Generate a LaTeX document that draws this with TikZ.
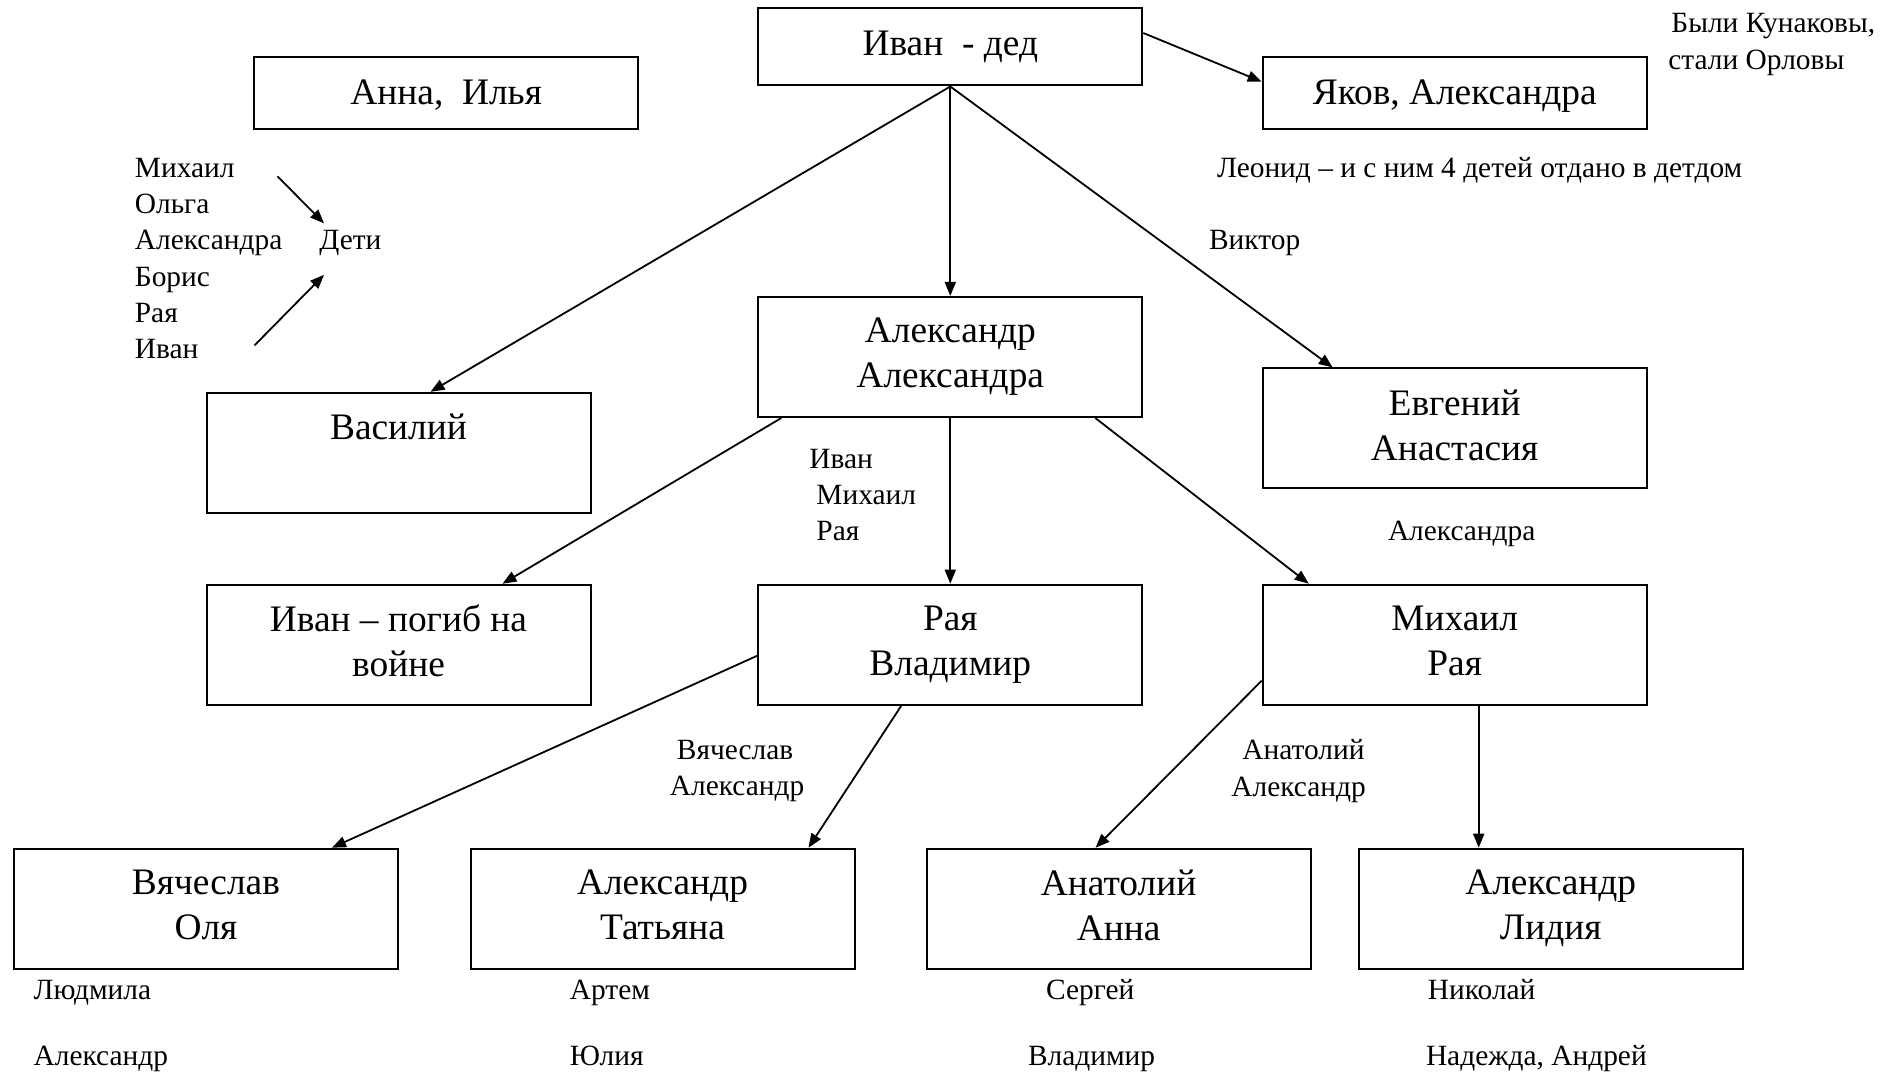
\documentclass[tikz,border=0pt]{standalone}
\usepackage{fontspec}
\setmainfont{Liberation Serif}
\usetikzlibrary{arrows.meta}

\tikzset{
  person/.style={draw, line width=1pt, minimum width=192pt, minimum height=60pt,
    inner sep=0pt, align=center, font=\fontsize{18.7}{22.5}\selectfont,
    execute at begin node=\rule[-3.75pt]{0pt}{19.5pt}},
  note/.style={anchor=west, inner sep=0pt, align=left, yshift=-1.2pt,
    font=\fontsize{14.7}{18.15}\selectfont,
    execute at begin node=\strut, execute at end node=\strut},
  link/.style={->, >={Triangle[length=7pt,width=5.5pt]}, line width=0.9pt}
}

\begin{document}
\begin{tikzpicture}[x=0.5pt, y=-0.5pt]
\fill [white] (0,0) rectangle (1897,1074);
\useasboundingbox (0,0) rectangle (1897,1074);

% boxes
\node [person, minimum height=38.5pt] (ivan) at (950.3,47) {Иван\ \ - дед\strut};
\node [person, minimum height=36pt] (anna) at (446.2,92.7) {Анна,\ \ Илья};
\node [person, minimum height=36pt] (yakov) at (1454.7,92.7) {Яков, Александра};
\node [person] (alex) at (950.3,357) {Александр\\Александра};
\node [person] (vasily) at (398.5,452.8) {Василий\\~};
\node [person] (evgeny) at (1454.7,428.5) {Евгений\\Анастасия};
\node [person] (ivanw) at (398.5,644.7) {Иван – погиб на\\войне};
\node [person] (raya) at (950.3,644.7) {Рая\\Владимир};
\node [person] (mikhail) at (1454.7,644.7) {Михаил\\Рая};
\node [person] (slava) at (206,908.7) {Вячеслав\\Оля};
\node [person] (sasha) at (662.5,908.7) {Александр\\Татьяна};
\node [person] (anatoly) at (1118.6,908.7) {Анатолий\\Анна};
\node [person] (sashal) at (1550.7,908.7) {Александр\\Лидия};

% notes
\node [note] (kids) at (134.5,261.3) {Михаил\\Ольга\\Александра\\Борис\\Рая\\Иван};
\node [note] (deti) at (319,239.5) {Дети};
\node [note] (byli) at (1668,44.5) {\hspace*{1.5pt}Были Кунаковы,\\стали Орловы};
\node [note] (leonid) at (1216.6,167.7) {Леонид – и с ним 4 детей отдано в детдом};
\node [note] (viktor) at (1208.7,240) {Виктор};
\node [note] (alexkids) at (809,498) {Иван\\\hspace*{3.5pt}Михаил\\\hspace*{3.5pt}Рая};
\node [note] (evgkids) at (1387.6,531) {Александра};
\node [note] (rayakids) at (669.5,771) {\hspace*{3.5pt}Вячеслав\\Александр};
\node [note] (mikhkids) at (1231,771) {\hspace*{5.5pt}Анатолий\\Александр};
\node [note] (slava1) at (33.3,990) {Людмила};
\node [note] (slava2) at (33.3,1055.7) {Александр};
\node [note] (sasha1) at (569.5,990) {Артем};
\node [note] (sasha2) at (569.5,1055.7) {Юлия};
\node [note] (anat1) at (1045.8,990) {Сергей};
\node [note] (anat2) at (1027.6,1055.7) {Владимир};
\node [note] (sashal1) at (1427.5,990) {Николай};
\node [note] (sashal2) at (1425.6,1055.7) {Надежда, Андрей};

% arrows to Дети
\coordinate (k1) at (277.5,176.3);
\coordinate (k2) at (254.5,345.4);
\draw [link] (k1) -- ([xshift=2.5pt]deti.north west);
\draw [link] (k2) -- ([xshift=2.5pt,yshift=-7.2pt]deti.south west);

% family lines
\draw [link] ([yshift=7pt]ivan.east) -- ([yshift=5.5pt]yakov.west);
\draw [link] (ivan.south) -- ([xshift=16pt]vasily.north);
\draw [link] (ivan.south) -- (alex.north);
\draw [link] (ivan.south) -- ([xshift=-61pt]evgeny.north);
\draw [link] ([xshift=-84.5pt]alex.south) -- ([xshift=52pt]ivanw.north);
\draw [link] (alex.south) -- (raya.north);
\draw [link] ([xshift=72.5pt]alex.south) -- ([xshift=-73pt]mikhail.north);
\draw [link] ([yshift=-5.5pt]raya.west) -- ([xshift=63pt]slava.north);
\draw [link] ([xshift=-24.5pt]raya.south) -- ([xshift=73pt]sasha.north);
\draw [link] ([yshift=-18pt]mikhail.west) -- ([xshift=-11.5pt]anatoly.north);
\draw [link] ([xshift=12pt]mikhail.south) -- ([xshift=-36pt]sashal.north);
\end{tikzpicture}
\end{document}
